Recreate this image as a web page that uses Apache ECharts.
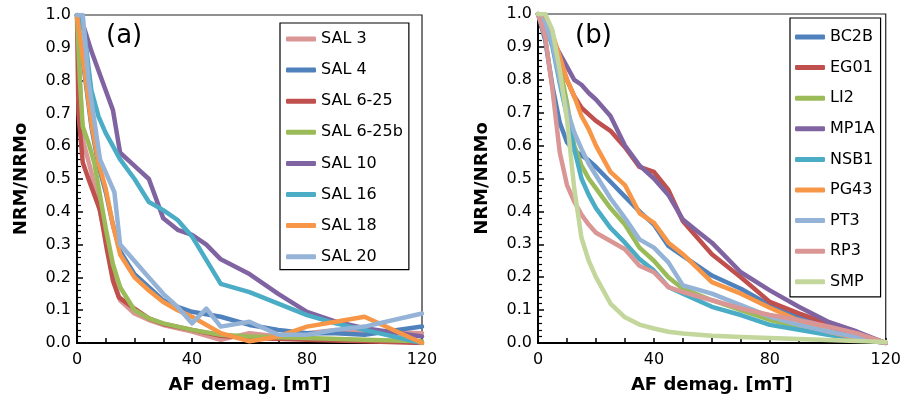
<!DOCTYPE html>
<html>
<head>
<meta charset="utf-8">
<script src="https://cdn.jsdelivr.net/npm/echarts@6/dist/echarts.min.js"></script>
<style>
html,body{margin:0;padding:0;background:#fff;}
#chart{width:904px;height:403px;}
</style>
</head>
<body>
<div id="chart"></div>
<script>
// ---------- Panel (a) ----------
const namesA = ['SAL 3','SAL 4','SAL 6-25','SAL 6-25b','SAL 10','SAL 16','SAL 18','SAL 20'];
const colorsA = ['#D99694','#4F81BD','#C0504D','#9BBB59','#8064A2','#4BACC6','#F79646','#95B3D7'];
const sal3 = [[0,1],[1,0.8],[2,0.62],[5,0.52],[7.5,0.42],[10,0.32],[12.5,0.2],[15,0.13],[20,0.09],[25,0.07],[30,0.055],[40,0.035],[50,0.01],[60,0.03],[70,0.02],[80,0.03],[90,0.04],[100,0.035],[120,0.03]];
const sal4 = [[0,1],[2.5,0.83],[5,0.66],[7.5,0.54],[10,0.46],[12.5,0.36],[15,0.28],[20,0.21],[25,0.17],[30,0.13],[35,0.11],[40,0.095],[50,0.08],[60,0.055],[70,0.04],[80,0.03],[90,0.03],[100,0.025],[120,0.05]];
const sal625 = [[0,1],[0.5,0.7],[2,0.55],[4,0.5],[8,0.405],[10.4,0.285],[12.5,0.19],[14.5,0.14],[20,0.105],[25,0.075],[30,0.058],[40,0.04],[50,0.022],[60,0.015],[80,0.01],[100,0.005],[120,0]];
const sal625b = [[0,1],[0.5,0.9],[1,0.8],[2,0.66],[4,0.61],[6,0.55],[8,0.45],[10,0.35],[12.5,0.24],[15,0.17],[20,0.1],[25,0.075],[30,0.06],[40,0.04],[50,0.025],[60,0.02],[80,0.015],[100,0.01],[120,0.005]];
const sal10 = [[0,1],[2.5,0.96],[5,0.89],[7.5,0.83],[10,0.77],[12.5,0.71],[15,0.58],[20,0.54],[25,0.5],[30,0.38],[35,0.345],[40,0.33],[45,0.3],[50,0.255],[60,0.21],[70,0.15],[80,0.095],[90,0.065],[100,0.045],[120,0.02]];
const sal16 = [[0,1],[2.5,0.95],[5,0.77],[7.5,0.69],[10,0.64],[12.5,0.6],[15,0.56],[20,0.5],[25,0.43],[30,0.405],[35,0.375],[40,0.325],[50,0.18],[60,0.155],[70,0.12],[80,0.085],[90,0.06],[100,0.04],[120,0]];
const sal18 = [[0,1],[2.5,0.84],[5,0.67],[7.5,0.55],[10,0.47],[12.5,0.36],[15,0.27],[20,0.2],[25,0.16],[30,0.125],[35,0.1],[40,0.08],[50,0.03],[60,0.005],[70,0.02],[80,0.05],[90,0.065],[100,0.08],[120,0]];
const sal20 = [[0,1],[2,1],[4,0.8],[6,0.68],[8,0.56],[10,0.52],[12,0.48],[13,0.46],[15,0.3],[20,0.25],[25,0.2],[30,0.15],[35,0.11],[40,0.06],[45,0.105],[50,0.05],[60,0.065],[70,0.025],[80,0.025],[90,0.04],[100,0.05],[120,0.09]];
const dataA = [sal3, sal4, sal625, sal625b, sal10, sal16, sal18, sal20];

// ---------- Panel (b) ----------
const namesB = ['BC2B','EG01','LI2','MP1A','NSB1','PG43','PT3','RP3','SMP'];
const colorsB = ['#4F81BD','#C0504D','#9BBB59','#8064A2','#4BACC6','#F79646','#95B3D7','#D99694','#C3D69B'];
const bc2b = [[0,1],[2.5,0.92],[5,0.78],[7.5,0.67],[10,0.61],[12.5,0.585],[15,0.57],[17.5,0.555],[20,0.535],[25,0.49],[30,0.445],[35,0.4],[40,0.36],[45,0.295],[50,0.265],[60,0.205],[70,0.165],[80,0.115],[90,0.08],[100,0.05],[110,0.025],[120,0]];
const eg01 = [[0,1],[2.5,0.98],[5,0.93],[7.5,0.86],[10,0.8],[12.5,0.75],[15,0.715],[17.5,0.695],[20,0.675],[25,0.645],[30,0.595],[35,0.535],[40,0.52],[45,0.465],[50,0.37],[55,0.32],[60,0.27],[70,0.2],[80,0.125],[90,0.09],[100,0.06],[110,0.03],[120,0]];
const li2 = [[0,1],[2.5,0.99],[5,0.94],[7.5,0.84],[10,0.73],[12.5,0.6],[15,0.54],[17.5,0.5],[20,0.47],[25,0.41],[30,0.36],[35,0.29],[40,0.25],[45,0.2],[50,0.165],[60,0.13],[70,0.1],[80,0.07],[90,0.05],[100,0.03],[110,0.015],[120,0]];
const mp1a = [[0,1],[2.5,0.96],[5,0.92],[7.5,0.88],[10,0.84],[12.5,0.8],[15,0.785],[17.5,0.76],[20,0.74],[25,0.69],[30,0.6],[35,0.54],[40,0.5],[45,0.45],[50,0.375],[55,0.34],[60,0.305],[70,0.215],[80,0.16],[90,0.11],[100,0.065],[110,0.035],[120,0]];
const nsb1 = [[0,1],[2.5,0.97],[5,0.9],[7.5,0.79],[10,0.69],[12.5,0.59],[15,0.5],[17.5,0.45],[20,0.41],[25,0.35],[30,0.305],[35,0.255],[40,0.22],[45,0.17],[50,0.15],[60,0.11],[70,0.085],[80,0.055],[90,0.04],[100,0.025],[110,0.012],[120,0]];
const pg43 = [[0,1],[2.5,0.99],[5,0.94],[7.5,0.87],[10,0.8],[12.5,0.75],[15,0.69],[17.5,0.65],[20,0.6],[25,0.52],[30,0.48],[35,0.395],[40,0.365],[45,0.305],[50,0.27],[60,0.185],[70,0.15],[80,0.107],[90,0.068],[100,0.035],[110,0.015],[120,0]];
const pt3 = [[0,1],[2.5,0.97],[5,0.91],[7.5,0.8],[10,0.71],[12.5,0.64],[15,0.59],[17.5,0.545],[20,0.51],[25,0.44],[30,0.38],[35,0.315],[40,0.29],[45,0.245],[50,0.175],[60,0.15],[70,0.115],[80,0.08],[90,0.055],[100,0.035],[110,0.018],[120,0]];
const rp3 = [[0,1],[2.5,0.93],[5,0.77],[7.5,0.58],[10,0.48],[12.5,0.43],[15,0.39],[17.5,0.36],[20,0.335],[25,0.31],[30,0.285],[35,0.235],[40,0.215],[45,0.17],[50,0.155],[60,0.13],[70,0.105],[80,0.085],[90,0.07],[100,0.05],[110,0.03],[120,0]];
const smp = [[0,1],[2.5,1.0],[5,0.95],[7.5,0.83],[10,0.68],[12.5,0.47],[15,0.32],[17.5,0.25],[20,0.2],[25,0.12],[30,0.078],[35,0.056],[40,0.044],[45,0.034],[50,0.029],[60,0.022],[70,0.018],[80,0.015],[90,0.012],[100,0.009],[120,0.003]];
const dataB = [bc2b, eg01, li2, mp1a, nsb1, pg43, pt3, rp3, smp];

// ---------- Axes ----------
const xMin = 0, xMax = 120, xInterval = 40;
const yMin = 0, yMax = 1, yInterval = 0.1;
const xTitle = 'AF demag. [mT]';
const yTitle = 'NRM/NRMo';
const panelLabels = ['(a)', '(b)'];

const FONT = 'DejaVu Sans';

function xAxisCfg(idx) {
  return {
    type: 'value', gridIndex: idx, min: xMin, max: xMax, interval: xInterval,
    name: xTitle, nameLocation: 'middle', nameGap: 33,
    nameTextStyle: {fontFamily: FONT, fontSize: 18, fontWeight: 'bold', color: '#000'},
    axisLine: {show: true, onZero: false, lineStyle: {color: '#000', width: 2}},
    axisTick: {show: true, inside: true, length: 5, lineStyle: {color: '#000', width: 1.5}},
    minorTick: {show: true, splitNumber: 4, length: 5, lineStyle: {color: '#000', width: 1.5}},
    axisLabel: {fontFamily: FONT, fontSize: 16, color: '#000', margin: 9},
    splitLine: {show: false}, minorSplitLine: {show: false}
  };
}
function yAxisCfg(idx) {
  return {
    type: 'value', gridIndex: idx, min: yMin, max: yMax, interval: yInterval,
    name: yTitle, nameLocation: 'middle', nameGap: 47, nameRotate: 90,
    nameTextStyle: {fontFamily: FONT, fontSize: 18, fontWeight: 'bold', color: '#000'},
    axisLine: {show: true, onZero: false, lineStyle: {color: '#000', width: 2}},
    axisTick: {show: true, inside: true, length: 6, lineStyle: {color: '#000', width: 1.5}},
    minorTick: {show: true, splitNumber: 5, length: 4, lineStyle: {color: '#000', width: 1.2}},
    axisLabel: {fontFamily: FONT, fontSize: 16, color: '#000', margin: 6,
      formatter: v => v.toFixed(1)},
    splitLine: {show: false}, minorSplitLine: {show: false}
  };
}

const series = [];
namesA.forEach((n, i) => series.push({
  name: n, type: 'line', xAxisIndex: 0, yAxisIndex: 0, data: dataA[i],
  symbol: 'none', showSymbol: false, color: colorsA[i],
  lineStyle: {width: 4.5, color: colorsA[i], join: 'round', cap: 'round'}, z: 2 + i
}));
namesB.forEach((n, i) => series.push({
  name: n, type: 'line', xAxisIndex: 1, yAxisIndex: 1, data: dataB[i],
  symbol: 'none', showSymbol: false, color: colorsB[i],
  lineStyle: {width: 4.5, color: colorsB[i], join: 'round', cap: 'round'}, z: 2 + i
}));

const legendText = {fontFamily: FONT, fontSize: 16, color: '#000', lineHeight: 20};

const option = {
  backgroundColor: '#fff',
  animation: false,
  grid: [
    {left: 77, top: 15, width: 345, height: 328, show: true, borderColor: '#222', borderWidth: 1.2, backgroundColor: 'transparent'},
    {left: 538, top: 14, width: 349, height: 329, show: true, borderColor: '#222', borderWidth: 1.2, backgroundColor: 'transparent'}
  ],
  xAxis: [xAxisCfg(0), xAxisCfg(1)],
  yAxis: [yAxisCfg(0), yAxisCfg(1)],
  legend: [
    {data: namesA, left: 280, top: 23, orient: 'vertical', icon: 'roundRect',
     itemWidth: 30, itemHeight: 5, itemGap: 11.1, padding: [6, 6, 3, 6],
     borderColor: '#000', borderWidth: 1.2, backgroundColor: '#fff', textStyle: legendText},
    {data: namesB, left: 790, top: 18, orient: 'vertical', icon: 'roundRect',
     itemWidth: 30, itemHeight: 5, itemGap: 10.6, padding: [9, 6, 5, 5],
     borderColor: '#000', borderWidth: 1.2, backgroundColor: '#fff', textStyle: legendText}
  ],
  graphic: [
    {type: 'text', left: 106, top: 23, style: {text: panelLabels[0], font: '26px "DejaVu Sans"', fill: '#000'}},
    {type: 'text', left: 575, top: 23, style: {text: panelLabels[1], font: '26px "DejaVu Sans"', fill: '#000'}}
  ],
  series: series
};

const chart = echarts.init(document.getElementById('chart'), null, {renderer: 'canvas'});
chart.setOption(option);
</script>
</body>
</html>
